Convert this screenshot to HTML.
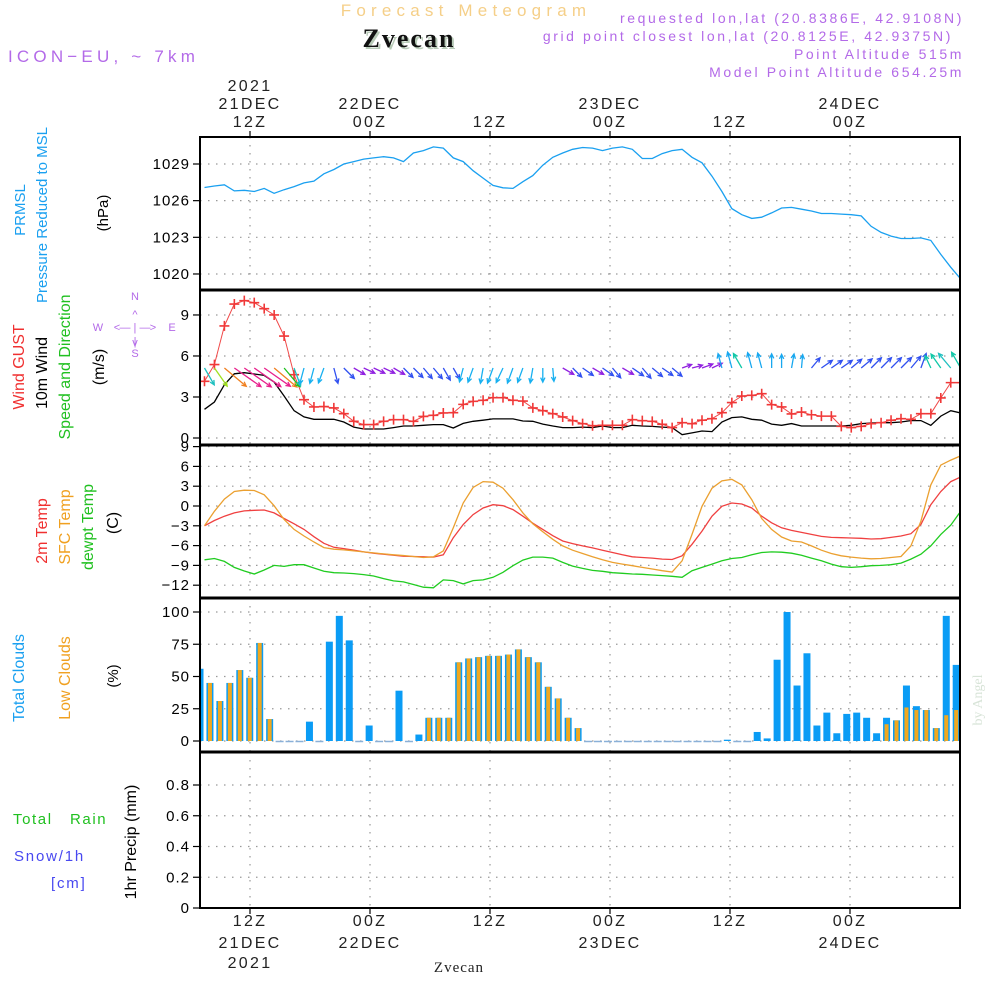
<!DOCTYPE html>
<html><head><meta charset="utf-8"><style>
html,body{margin:0;padding:0;background:#fff;}
svg{display:block;font-family:"Liberation Sans",sans-serif;}
</style></head><body>
<svg id="chart" width="1000" height="1000" viewBox="0 0 1000 1000" xmlns="http://www.w3.org/2000/svg">
<g id="header">
<text x="466" y="16" text-anchor="middle" font-size="17" letter-spacing="5.2" fill="#f5cf88">Forecast Meteogram</text>
<text x="411" y="49" text-anchor="middle" font-family="Liberation Serif,serif" font-weight="bold" font-size="26" letter-spacing="2" fill="#b8cbb8">Zvecan</text>
<text x="409" y="47" text-anchor="middle" font-family="Liberation Serif,serif" font-weight="bold" font-size="26" letter-spacing="2" fill="#111">Zvecan</text>
<text x="8" y="62" font-size="17" letter-spacing="4.2" fill="#b36ae8">ICON−EU, ~ 7km</text>
<g font-size="14" letter-spacing="2.6" fill="#b36ae8" text-anchor="end">
<text x="964" y="23">requested lon,lat (20.8386E, 42.9108N)</text>
<text x="953" y="41">grid point closest lon,lat (20.8125E, 42.9375N)</text>
<text x="964" y="59">Point Altitude 515m</text>
<text x="964" y="77">Model Point Altitude 654.25m</text>
</g>
</g>
<g id="grid"></g>
<g id="marks"></g>
<g id="axes"></g>
<g id="labels" font-size="15">
<text transform="translate(25,210) rotate(-90)" text-anchor="middle" fill="#1aa0f0">PRMSL</text>
<text transform="translate(47,215) rotate(-90)" text-anchor="middle" fill="#1aa0f0">Pressure Reduced to MSL</text>
<text transform="translate(108,213) rotate(-90)" text-anchor="middle" fill="#000">(hPa)</text>
<text transform="translate(24,367) rotate(-90)" text-anchor="middle" fill="#f03030" font-size="16">Wind GUST</text>
<text transform="translate(47,373) rotate(-90)" text-anchor="middle" fill="#000" font-size="16">10m Wind</text>
<text transform="translate(70,367) rotate(-90)" text-anchor="middle" fill="#20c020" font-size="16">Speed and Direction</text>
<text transform="translate(104,367) rotate(-90)" text-anchor="middle" fill="#000" font-size="16">(m/s)</text>
<g font-size="11" fill="#b36ae8" text-anchor="middle">
<text x="135" y="300">N</text><text x="135" y="318">^</text><text x="135" y="331">— | —</text>
<text x="117" y="331">&lt;</text><text x="153" y="331">&gt;</text><text x="98" y="331">W</text><text x="172" y="331">E</text>
<text x="135" y="345">|</text><text x="135" y="346">v</text><text x="135" y="357">S</text>
</g>
<text transform="translate(47,531) rotate(-90)" text-anchor="middle" fill="#f03030" font-size="16">2m Temp</text>
<text transform="translate(70,527) rotate(-90)" text-anchor="middle" fill="#f0a020" font-size="16">SFC Temp</text>
<text transform="translate(93,527) rotate(-90)" text-anchor="middle" fill="#20c020" font-size="16">dewpt Temp</text>
<text transform="translate(118,523) rotate(-90)" text-anchor="middle" fill="#000" font-size="16">(C)</text>
<text transform="translate(24,678) rotate(-90)" text-anchor="middle" fill="#1aa0f0" font-size="16">Total Clouds</text>
<text transform="translate(70,678) rotate(-90)" text-anchor="middle" fill="#f0a020" font-size="16">Low Clouds</text>
<text transform="translate(118,676) rotate(-90)" text-anchor="middle" fill="#000">(%)</text>
<text transform="translate(136,842) rotate(-90)" text-anchor="middle" fill="#000" font-size="16">1hr Precip (mm)</text>
<text x="13" y="824" font-size="15" letter-spacing="1.6" fill="#20c020" xml:space="preserve">Total   Rain</text>
<text x="14" y="861" font-size="15" letter-spacing="1.8" fill="#4848f0">Snow/1h</text>
<text x="51" y="888" font-size="15" letter-spacing="1.8" fill="#4848f0">[cm]</text>
<text transform="translate(982,700) rotate(-90)" text-anchor="middle" font-family="Liberation Serif,serif" font-size="14" fill="#d8e4d8">by Angel</text>
<text x="459" y="972" text-anchor="middle" font-family="Liberation Serif,serif" font-size="15" letter-spacing="1" fill="#222">Zvecan</text>
</g>
</svg>
<script>
// ---------- data (hourly, 77 steps) ----------
const pressure=[1027.08,1027.2,1027.3,1026.8,1026.85,1026.75,1027,1026.6,1026.9,1027.15,1027.45,1027.6,1028.2,1028.55,1029,1029.2,1029.4,1029.5,1029.6,1029.5,1029.2,1029.9,1030.1,1030.4,1030.3,1029.5,1029.2,1028.45,1027.85,1027.25,1027.05,1027,1027.55,1028.05,1028.9,1029.55,1029.9,1030.2,1030.35,1030.3,1030.1,1030.3,1030.4,1030.2,1029.45,1029.45,1029.85,1030.1,1030.2,1029.55,1029.1,1028,1026.75,1025.35,1024.85,1024.55,1024.65,1025,1025.4,1025.45,1025.3,1025.15,1024.95,1024.95,1024.9,1024.85,1024.75,1023.9,1023.4,1023.1,1022.9,1022.9,1022.95,1022.75,1021.6,1020.55,1019.6];
const gust=[4.15,5.37,8.2,9.8,10.05,9.9,9.46,9.0,7.46,4.63,2.8,2.27,2.3,2.2,1.78,1.22,0.98,0.98,1.22,1.34,1.34,1.22,1.58,1.66,1.83,1.85,2.46,2.68,2.76,2.95,2.95,2.76,2.7,2.2,2.0,1.78,1.54,1.27,1.05,0.9,0.93,0.93,0.93,1.34,1.27,1.22,1.0,0.76,1.12,1.05,1.3,1.41,1.85,2.59,3.07,3.12,3.24,2.44,2.27,1.76,1.9,1.7,1.6,1.6,0.85,0.76,0.85,1.05,1.12,1.3,1.41,1.37,1.78,1.78,2.93,4.05,4.05];
const windSpeed=[2.1,2.63,3.9,4.7,4.78,4.68,4.58,4.1,3.07,2.0,1.54,1.37,1.37,1.37,1.17,0.8,0.66,0.66,0.66,0.76,0.88,0.88,0.93,0.98,0.98,0.73,1.07,1.22,1.3,1.4,1.4,1.4,1.24,1.22,1.02,0.88,0.76,0.76,0.8,0.76,0.88,0.76,0.76,0.93,0.88,0.85,0.8,0.76,0.24,0.37,0.51,0.47,1.17,1.49,1.54,1.37,1.3,1.02,0.93,1.05,0.88,0.88,0.88,0.88,0.88,0.93,1.05,1.1,1.12,1.12,1.17,1.27,1.27,0.93,1.6,2.0,1.83];
const windDir=[150,145,130,125,125,125,125,130,140,160,195,195,200,165,135,120,115,115,115,120,135,135,140,140,150,150,195,200,190,200,205,200,200,190,180,175,120,135,125,120,125,140,120,125,140,130,125,130,70,75,70,65,345,345,330,345,345,0,0,10,5,40,55,55,55,50,50,45,45,45,45,40,20,335,325,320,330];
const temp2m=[-3,-2.2,-1.55,-1.05,-0.75,-0.65,-0.6,-1.05,-1.9,-2.7,-3.55,-4.65,-5.65,-6.25,-6.45,-6.7,-6.95,-7.15,-7.3,-7.45,-7.6,-7.65,-7.7,-7.75,-7.4,-4.8,-2.8,-1.3,-0.3,0.2,0.05,-0.55,-1.55,-2.6,-3.55,-4.5,-5.3,-5.7,-6.05,-6.35,-6.7,-7.05,-7.4,-7.7,-7.8,-7.9,-8.05,-8.1,-7.55,-5.8,-3.8,-1.55,-0.05,0.45,0.3,-0.3,-1.55,-2.55,-3.3,-3.7,-4,-4.3,-4.6,-4.75,-4.8,-4.85,-4.9,-5,-4.95,-4.75,-4.55,-4.2,-2.8,0.2,2.2,3.7,4.4];
const tempSfc=[-3,-0.8,1.05,2.2,2.4,2.35,1.7,0.05,-2.05,-3.55,-4.55,-5.45,-6.3,-6.55,-6.65,-6.8,-6.95,-7.1,-7.25,-7.4,-7.5,-7.65,-7.8,-7.7,-6.8,-3.3,0.45,2.8,3.7,3.6,2.7,0.95,-1.05,-2.7,-3.9,-5.05,-6.05,-6.7,-7.2,-7.7,-8.15,-8.55,-8.8,-9.05,-9.3,-9.55,-9.8,-10,-8.3,-4.3,-0.05,2.7,3.8,4.05,3.2,0.95,-1.9,-3.55,-4.7,-5.3,-5.45,-6.05,-6.7,-7.2,-7.55,-7.75,-7.9,-8,-7.95,-7.8,-7.65,-6.05,-2.3,3.2,6.2,6.95,7.6];
const dewpt=[-8.15,-7.95,-8.4,-9.3,-9.85,-10.3,-9.7,-9,-9.15,-8.9,-8.9,-9.4,-9.9,-10.1,-10.15,-10.25,-10.4,-10.6,-11,-11.35,-11.5,-11.9,-12.3,-12.4,-11.2,-11.3,-11.8,-11.3,-11.2,-10.8,-10.05,-9.05,-8.2,-7.75,-7.75,-7.9,-8.55,-9.1,-9.45,-9.75,-9.9,-10.1,-10.2,-10.3,-10.35,-10.45,-10.55,-10.65,-10.8,-9.8,-9.3,-8.8,-8.3,-7.95,-7.8,-7.4,-7.05,-6.95,-7,-7.15,-7.45,-7.9,-8.3,-8.8,-9.2,-9.3,-9.2,-9.05,-9,-8.9,-8.65,-8.05,-7.3,-6.05,-4.3,-2.9,-0.8];
const totalClouds=[56,45,31,45,55,49,76,17,0,0,0,15,0,77,97,78,0,12,0,0,39,0,5,18,18,18,61,64,65,66,66,67,71,65,61,42,33,18,10,0,0,0,0,0,0,0,0,0,0,0,0,0,0,1,0,0,7,2,63,100,43,68,12,22,6,21,22,18,6,18,16,43,27,24,10,97,59];
const lowClouds=[0,45,31,45,55,49,76,17,0,0,0,0,0,0,0,0,0,0,0,0,0,0,0,18,18,18,61,64,65,66,66,67,71,65,61,42,33,18,10,0,0,0,0,0,0,0,0,0,0,0,0,0,0,0,0,0,0,0,0,0,0,0,0,0,0,0,0,0,0,13,16,26,24,24,10,20,24];
const precip=new Array(77).fill(0);
const timeTicksTop=[["2021","21DEC","12Z"],["","22DEC","00Z"],["","","12Z"],["","23DEC","00Z"],["","","12Z"],["","24DEC","00Z"]];
const timeTicksBottom=[["12Z","21DEC","2021"],["00Z","22DEC",""],["12Z","",""],["00Z","23DEC",""],["12Z","",""],["00Z","24DEC",""]];
const tickHours=[5,17,29,41,53,65];
const pTicks=[1020,1023,1026,1029];
const wTicks=[0,3,6,9];
const tTicks=[-12,-9,-6,-3,0,3,6,9];
const cTicks=[0,25,50,75,100];
const rTicks=[0,0.2,0.4,0.6,0.8];

// ---------- scales ----------
const X0=200,X1=960;
const xh=h=>X0+h*10;
const xl=i=>204.5+i*9.95;
const xb=i=>200+i*9.95;
const yP=v=>164+(1029-v)*12.22;
const yW=v=>438-v*13.67;
const yT=v=>506-v*6.6;
const yC=v=>741-v*1.29;
const yR=v=>908-v*153.75;
const panels=[[137,290],[290,445],[445,598],[598,752],[752,908]];

const NS='http://www.w3.org/2000/svg';
function mk(tag,attrs,parent){const e=document.createElementNS(NS,tag);for(const k in attrs)e.setAttribute(k,attrs[k]);parent.appendChild(e);return e;}
const grid=document.getElementById('grid'),marks=document.getElementById('marks'),axes=document.getElementById('axes');
const defs=mk('defs',{},marks);
panels.forEach((p,k)=>{const c=mk('clipPath',{id:'clip'+k},defs);mk('rect',{x:X0,y:p[0],width:X1-X0,height:p[1]-p[0]},c);});

const gridStyle={stroke:'#999','stroke-width':1.2,'stroke-dasharray':'1.5,6.5',fill:'none'};
tickHours.forEach(h=>{panels.forEach(p=>{
  const l=mk('line',Object.assign({x1:xh(h),x2:xh(h),y1:p[0],y2:p[1]},gridStyle),grid);
  
  
});});
function hgrid(ticks,fy,labelFmt){ticks.forEach(v=>{
  const y=fy(v);
  const l=mk('line',Object.assign({x1:X0,x2:X1,y1:y,y2:y},gridStyle),grid);
  
  
  mk('line',{x1:X0-7,x2:X0,y1:y,y2:y,stroke:'#000','stroke-width':1.2},axes);
  const t=mk('text',{x:X0-10,y:y+5,'text-anchor':'end','font-size':15,'letter-spacing':1,fill:'#000'},axes);
  
  
  t.textContent=labelFmt?labelFmt(v):String(v).replace('-','−');
});}
hgrid(pTicks,yP);hgrid(wTicks,yW);hgrid(tTicks,yT);hgrid(cTicks,yC);hgrid(rTicks,yR,v=>v===0?'0':v.toFixed(1));

function line(vals,fy,color,name,clip,w){
  const d=vals.map((v,i)=>(i?'L':'M')+xl(i).toFixed(1)+','+fy(v).toFixed(1)).join('');
  const p=mk('path',{d:d,fill:'none',stroke:color,'stroke-width':w||1.3,'clip-path':'url(#clip'+clip+')'},marks);
  
  
}
line(pressure,yP,'#1aa0f0','pressure-line',0);

totalClouds.forEach((v,i)=>{if(v<=0)return;
  const r=mk('rect',{x:xb(i)-3.5,y:yC(v),width:7,height:yC(0)-yC(v),fill:'#0a9cf5','clip-path':'url(#clip3)'},marks);
  
  
});
lowClouds.forEach((v,i)=>{if(v<=0)return;
  const r=mk('rect',{x:xb(i)-2,y:yC(v),width:4,height:yC(0)-yC(v),fill:'#f0a820','clip-path':'url(#clip3)'},marks);
  
  
});
totalClouds.forEach((v,i)=>{if(v>0)return;
  const r=mk('line',{x1:xb(i)-4,x2:xb(i)+4,y1:yC(0)+0.5,y2:yC(0)+0.5,stroke:'#8ab0d8','stroke-width':1.5,'clip-path':'url(#clip3)'},marks);
  
  
});
precip.forEach((v,i)=>{if(v<=0)return;
  const r=mk('rect',{x:xb(i)-3.5,y:yR(v),width:7,height:yR(0)-yR(v),fill:'#20c020','clip-path':'url(#clip4)'},marks);
  
  
});

line(temp2m,yT,'#f04040','temp-2m-line',2);
line(tempSfc,yT,'#eba030','sfc-temp-line',2);
line(dewpt,yT,'#20cc20','dewpoint-line',2);

line(windSpeed,yW,'#000','wind-speed-line',1);
line(gust,yW,'#f04848','gust-line',1,1);
gust.forEach((v,i)=>{
  const x=xl(i),y=yW(v);
  const p=mk('path',{d:`M${x-5},${y}h10M${x},${y-5}v10`,stroke:'#f03838','stroke-width':1.6,'clip-path':'url(#clip1)'},marks);
  
  
});
function arrowColor(s,d){
  if(s>=4.4)return '#e8208c';
  if(s>=3.8)return '#f08020';
  if(s>=2.9)return '#20c020';
  if(s>=2.4)return '#a0e020';
  if(s>=1.9)return '#20c0c0';
  if(d>=95&&d<125)return '#9020e0';
  if(d>=60&&d<95)return '#9020e0';
  if(d>=125&&d<175)return '#3050f0';
  if(d>=175&&d<260)return '#18b0f0';
  if(d>=300&&d<340)return '#10c8a8';
  if(d>=340||d<15)return '#18a8f0';
  return '#3050f0';
}
windSpeed.forEach((s,i)=>{
  const d=windDir[i]*Math.PI/180,L=9+s*5;
  const x1=xl(i),y1=368,x2=x1+L*Math.sin(d),y2=y1-L*Math.cos(d);
  const hl=5,a1=d+Math.PI-0.45,a2=d+Math.PI+0.45;
  const c=arrowColor(s,windDir[i]);
  const p=mk('path',{d:`M${x1},${y1}L${x2},${y2}M${x2+hl*Math.sin(a1)},${y2-hl*Math.cos(a1)}L${x2},${y2}L${x2+hl*Math.sin(a2)},${y2-hl*Math.cos(a2)}`,fill:'none',stroke:c,'stroke-width':1.3,'clip-path':'url(#clip1)'},marks);
  
  
});

panels.forEach((p,k)=>{
  const r=mk('rect',{x:X0,y:p[0],width:X1-X0,height:p[1]-p[0],fill:'none',stroke:'#000','stroke-width':2},axes);
  
  
});
[290,445,598,752].forEach(y=>{mk('line',{x1:X0,x2:X1,y1:y,y2:y,stroke:'#000','stroke-width':3},axes);});
mk('line',{x1:X0,x2:X1,y1:908,y2:908,stroke:'#000','stroke-width':1.5,'stroke-dasharray':'5,2'},axes);

tickHours.forEach((h,k)=>{
  const x=xh(h);
  mk('line',{x1:x,x2:x,y1:131,y2:137,stroke:'#000','stroke-width':1.2},axes);
  mk('line',{x1:x,x2:x,y1:908,y2:914,stroke:'#000','stroke-width':1.2},axes);
  [85,103,121].forEach((y,j)=>{const s=timeTicksTop[k][j];if(!s)return;
    const t=mk('text',{x:x,y:y+6,'text-anchor':'middle','font-size':16,'letter-spacing':2.3,fill:'#222'},axes);
    
    
    t.textContent=s;});
  [920,942,962].forEach((y,j)=>{const s=timeTicksBottom[k][j];if(!s)return;
    const t=mk('text',{x:x,y:y+6,'text-anchor':'middle','font-size':16,'letter-spacing':2.3,fill:'#222'},axes);
    
    
    t.textContent=s;});
});
</script>
</body></html>
